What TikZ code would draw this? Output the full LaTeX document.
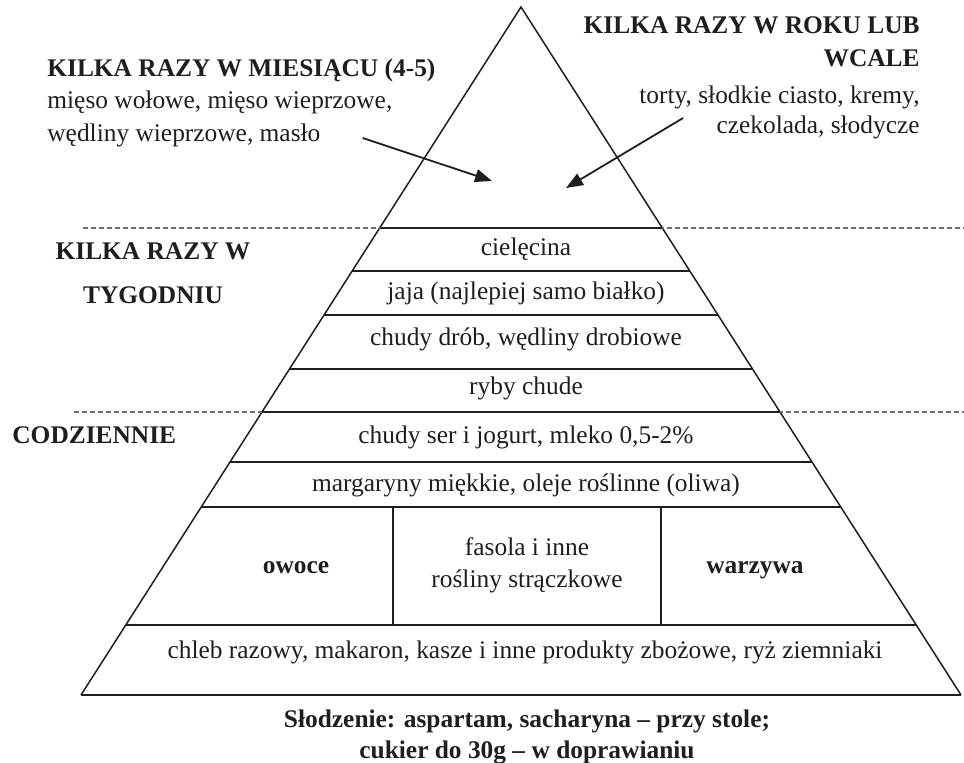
\documentclass[tikz,border=0pt]{standalone}
\usepackage{fontspec}
\setmainfont{Liberation Serif}
\usetikzlibrary{arrows.meta,calc}
\definecolor{Ink}{HTML}{1E1E1E}
\definecolor{Guide}{HTML}{707070}

\begin{document}
\begin{tikzpicture}[x=0.5pt,y=-0.5pt,>={Triangle[length=8.5pt,width=6.5pt]},
  side/.style={line width=0.75pt,Ink},
  band/.style={line width=1.3pt,Ink},
  guide/.style={dashed,Guide,line width=0.6pt,dash pattern=on 2.5pt off 1.5pt},
  food/.style={font=\fontsize{12.7}{15}\selectfont,text=Ink,inner sep=0pt,text height=8.5pt,text depth=2.7pt},
  head/.style={food,font=\bfseries\fontsize{12.7}{15}\selectfont},
  pointer/.style={->,line width=0.9pt,Ink}]
  \useasboundingbox (0,0) rectangle (964,762);

  % pyramid outline
  \coordinate (apex) at (521,7);
  \coordinate (baseL) at (81,695);
  \coordinate (baseR) at (961,695);
  \draw[side] (baseL) -- (apex) -- (baseR);
  \draw[band] (baseL) -- (baseR);

  % frequency guides
  \draw[guide] (83,228) -- (964,228);
  \draw[guide] (74,412) -- (964,412);

  % bands
  \foreach \y in {228,271,315,369,412,462,507,625}
    \draw[band] ($(apex)!{(\y-7)/688}!(baseL)$) -- ($(apex)!{(\y-7)/688}!(baseR)$);
  \draw[side] (393,507) -- (393,625);
  \draw[side] (661,507) -- (661,625);

  % food groups
  \node[food] (veal) at (526,250) {cielęcina};
  \node[food] (eggs) at (526,294) {jaja (najlepiej samo białko)};
  \node[food] (poultry) at (526,340) {chudy drób, wędliny drobiowe};
  \node[food] (fish) at (526,389) {ryby chude};
  \node[food] (dairy) at (526,438) {chudy ser i jogurt, mleko 0,5-2\%};
  \node[food] (fats) at (526,486) {margaryny miękkie, oleje roślinne (oliwa)};
  \node[head] (fruit) at (296,568) {owoce};
  \node[food,align=center,text height=,text depth=,font=\fontsize{12.7}{16}\selectfont] (beans) at (527,565) {fasola i inne\\rośliny strączkowe};
  \node[head] (veg) at (755,568) {warzywa};
  \node[food] (grain) at (525,653) {chleb razowy, makaron, kasze i inne produkty zbożowe, ryż ziemniaki};

  % frequency labels
  \node[head,anchor=west] (monthHead) at (47,71) {KILKA RAZY W MIESIĄCU (4-5)};
  \node[food,anchor=west] (monthL1) at (47,103) {mięso wołowe, mięso wieprzowe,};
  \node[food,anchor=west] (monthL2) at (47,136) {wędliny wieprzowe, masło};
  \node[head,anchor=east] (yearHead) at (920,28) {KILKA RAZY W ROKU LUB};
  \node[head,anchor=east] (yearHead2) at (920,61) {WCALE};
  \node[food,anchor=east] (yearL1) at (920,98) {torty, słodkie ciasto, kremy,};
  \node[food,anchor=east] (yearL2) at (920,128) {czekolada, słodycze};
  \node[head] (weekHead) at (153,254) {KILKA RAZY W};
  \node[head] (weekHead2) at (153,298) {TYGODNIU};
  \node[head,anchor=west] (daily) at (12,438) {CODZIENNIE};

  \coordinate (monthTip) at (492,181);
  \coordinate (yearTip) at (566,188);
  \draw[pointer] ($(monthL2.east)+(42,2)$) -- (monthTip);
  \draw[pointer] ($(yearL2.west)+(-33,-10)$) -- (yearTip);

  % sweeteners
  \node[head,align=center,text height=,text depth=,font=\bfseries\fontsize{12.7}{15.5}\selectfont] (sweet) at (527,737) {Słodzenie: aspartam, sacharyna – przy stole;\\cukier do 30g – w doprawianiu};
\end{tikzpicture}
\end{document}
